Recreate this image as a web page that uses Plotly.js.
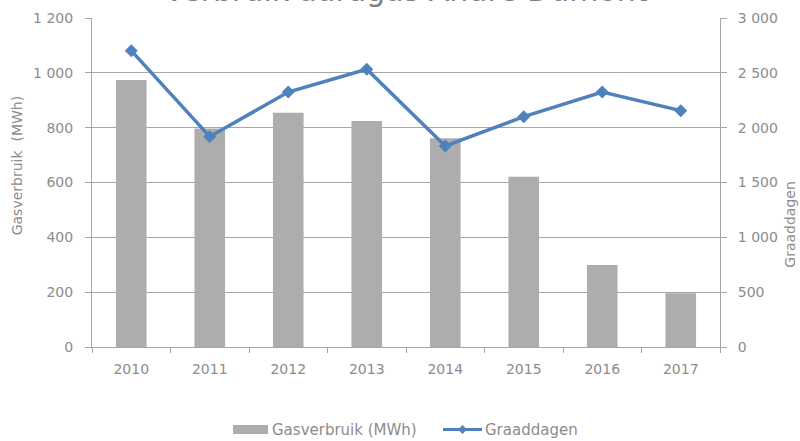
<!DOCTYPE html>
<html>
<head>
<meta charset="utf-8">
<script src="https://cdn.plot.ly/plotly-3.0.1.min.js"></script>
<style>html,body{margin:0;padding:0;background:#fff;}#chart{width:800px;height:441px;}</style>
</head>
<body>
<div id="chart"></div>
<script>
const years = ['2010','2011','2012','2013','2014','2015','2016','2017'];
const gasverbruik = [974, 797, 854, 824, 761, 621, 299, 196];
const graaddagen = [2702, 1918, 2325, 2532, 1833, 2100, 2325, 2155];
const leftTicks = [0, 200, 400, 600, 800, 1000, 1200];
const rightTicks = [0, 500, 1000, 1500, 2000, 2500, 3000];
const seriesNames = ['Gasverbruik (MWh)', 'Graaddagen'];

const font = "DejaVu Sans, sans-serif";
const gray = '#8c8c8c';
const axisCol = '#a6a6a6';
const barCol = '#adadad';
const lineCol = '#4f81bd';

const traces = [
  {type:'bar', x: years, y: gasverbruik, name: seriesNames[0],
   marker:{color:barCol}, yaxis:'y'},
  {type:'scatter', mode:'lines+markers', x: years, y: graaddagen, name: seriesNames[1],
   line:{color:lineCol, width:3.5}, marker:{symbol:'diamond', size:10, color:lineCol}, yaxis:'y2'}
];

// custom legend (paper coords from pixel positions)
const L = 92, W = 628, T = 18, H = 329;
const px = x => (x - L) / W;
const py = y => (T + H - y) / H;

const layout = {
  width:800, height:441,
  margin:{l:92, r:80, t:18, b:94},
  paper_bgcolor:'#fff', plot_bgcolor:'#fff',
  separators:', ',
  font:{family:font, size:14, color:gray},
  bargap:0.61,
  showlegend:false,
  xaxis:{type:'category', showline:true, linecolor:axisCol, linewidth:1,
         ticks:'outside', tickson:'boundaries', ticklen:5, tickcolor:axisCol,
         showgrid:false, tickfont:{size:14, color:gray}, ticklabelstandoff:9},
  yaxis:{range:[0,1200], tickvals:leftTicks, tickformat:',d', separatethousands:true,
         showline:true, linecolor:axisCol, ticks:'outside', ticklen:6, tickcolor:axisCol,
         showgrid:true, gridcolor:axisCol, gridwidth:1, zeroline:false,
         tickfont:{size:14, color:gray}, ticklabelstandoff:9},
  yaxis2:{range:[0,3000], tickvals:rightTicks, tickformat:',d', separatethousands:true,
          overlaying:'y', side:'right', showline:true, linecolor:axisCol,
          ticks:'outside', ticklen:6, tickcolor:axisCol, showgrid:false, zeroline:false,
          tickfont:{size:14, color:gray}, ticklabelstandoff:8},
  shapes:[
    {type:'rect', xref:'paper', yref:'paper', x0:px(233), x1:px(268), y0:py(434), y1:py(425),
     fillcolor:barCol, line:{width:0}},
    {type:'line', xref:'paper', yref:'paper', x0:px(443), x1:px(482), y0:py(429.5), y1:py(429.5),
     line:{color:lineCol, width:3}},
    {type:'path', xref:'paper', yref:'paper',
     path:`M ${px(462.5)} ${py(425)} L ${px(467)} ${py(429.5)} L ${px(462.5)} ${py(434)} L ${px(458)} ${py(429.5)} Z`,
     fillcolor:lineCol, line:{width:0}}
  ],
  annotations:[
    {text:'Verbruik aardgas André Dumont', xref:'paper', yref:'paper', x:0.5, y:1.025,
     xanchor:'center', yanchor:'bottom', showarrow:false,
     font:{family:font, size:30, color:'#7f7f7f'}},
    {text:'Gasverbruik  (MWh)', xref:'paper', yref:'paper', x:-0.119, y:0.553,
     xanchor:'center', yanchor:'middle', textangle:-90, showarrow:false,
     font:{family:font, size:14, color:gray}},
    {text:'Graaddagen', xref:'paper', yref:'paper', x:1.111, y:0.374,
     xanchor:'center', yanchor:'middle', textangle:-90, showarrow:false,
     font:{family:font, size:14, color:gray}},
    {text:seriesNames[0], xref:'paper', yref:'paper', x:px(270), y:py(429.5),
     xanchor:'left', yanchor:'middle', showarrow:false, font:{family:font, size:15, color:gray}},
    {text:seriesNames[1], xref:'paper', yref:'paper', x:px(483), y:py(429.5),
     xanchor:'left', yanchor:'middle', showarrow:false, font:{family:font, size:15, color:gray}}
  ]
};

Plotly.newPlot('chart', traces, layout, {displayModeBar:false, staticPlot:true});
</script>
</body>
</html>
